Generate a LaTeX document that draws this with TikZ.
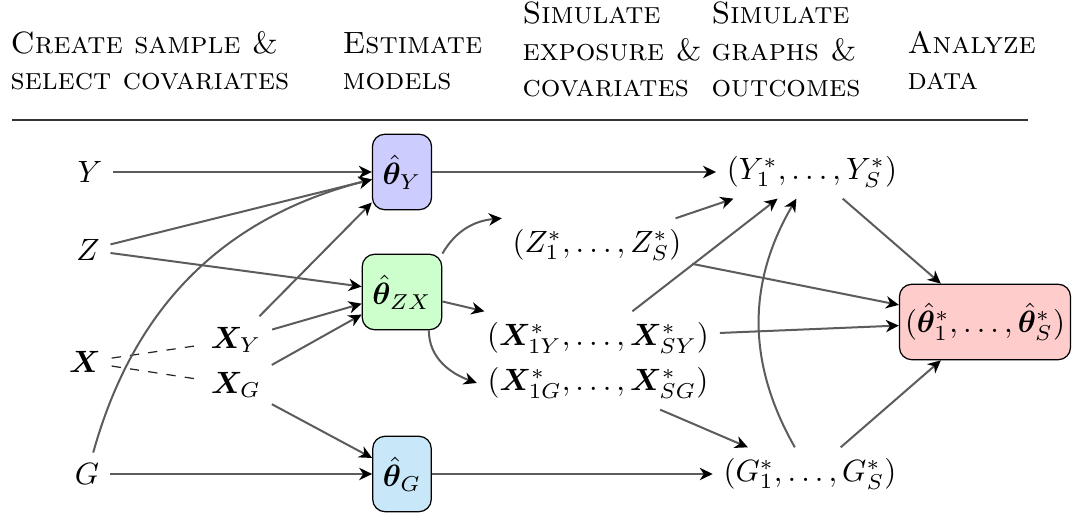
\documentclass[tikz,border=0pt]{standalone}
\usepackage{amsmath}
\usepackage{bm}
\usetikzlibrary{arrows.meta}
\definecolor{boxY}{RGB}{204,204,255}
\definecolor{boxZX}{RGB}{204,255,204}
\definecolor{boxG}{RGB}{200,232,250}
\definecolor{boxR}{RGB}{255,204,204}
\definecolor{edgegray}{RGB}{92,92,92}
\begin{document}
\begin{tikzpicture}[x=0.3247pt,y=-0.3247pt,
  est/.style={draw=black, line width=0.4pt, rounded corners=4pt, minimum height=24.5pt, inner sep=3.33pt},
  arr/.style={draw=edgegray, line width=0.65pt, -{Stealth[color=black,length=4.2pt,width=4pt,inset=1.3pt]}},
  dsh/.style={draw=black!85, dashed, line width=0.4pt},
  hdr/.style={anchor=base west, inner sep=0pt, align=left, font=\scshape},
  rule/.style={draw=black!80, line width=0.6pt}]
\useasboundingbox (0,0) rectangle (1081,522);

% header
\node[hdr] (h1) at (10,90) {Create sample \&\\select covariates};
\node[hdr] (h2) at (342,90) {Estimate\\models};
\node[hdr] (h3) at (522,97) {Simulate\\exposure \&\\covariates};
\node[hdr] (h4) at (711,97) {Simulate\\graphs \&\\outcomes};
\node[hdr] (h5) at (907,90) {Analyze\\data};
\coordinate (rl) at (12,120);
\coordinate (rr) at (1028,120);
\draw[rule] (rl) -- (rr);

% inputs
\node (Y) at (90,172) {$Y$};
\node (Z) at (88,250) {$Z$};
\node (X) at (85,362) {$\bm X$};
\node (G) at (87,474) {$G$};
\node (XY) at (236,340) {$\bm X_Y$};
\node (XG) at (236,385) {$\bm X_G$};

% models
\node[est, fill=boxY] (thY) at (402,172) {$\hat{\bm\theta}_Y$};
\node[est, fill=boxZX] (thZX) at (402,292) {$\hat{\bm\theta}_{ZX}$};
\node[est, fill=boxG] (thG) at (402,474) {$\hat{\bm\theta}_G$};

% simulated
\node (Zs) at (597,245) {$(Z^*_1,\ldots,Z^*_S)$};
\node (XsY) at (598,338) {$(\bm X^*_{1Y},\ldots,\bm X^*_{SY})$};
\node (XsG) at (598,383) {$(\bm X^*_{1G},\ldots,\bm X^*_{SG})$};
\node (Ys) at (812,172) {$(Y^*_1,\ldots,Y^*_S)$};
\node (Gs) at (810,474) {$(G^*_1,\ldots,G^*_S)$};
\node[est, fill=boxR, inner xsep=1.8pt] (Res) at (985,322) {$(\hat{\bm\theta}^*_1,\ldots,\hat{\bm\theta}^*_S)$};

% dashed
\draw[dsh] (X) -- (XY);
\draw[dsh] (X) -- (XG);

% edges into models
\draw[arr] (Y) -- (thY);
\draw[arr] (Z) -- (thY);
\draw[arr] (Z) -- (thZX);
\draw[arr] (G) to[bend left=30] (thY);
\draw[arr] (XY) -- (thY);
\draw[arr] (XY) -- (thZX);
\draw[arr] (XG) -- (thZX);
\draw[arr] (XG) -- (thG);
\draw[arr] (G) -- (thG);

% model outputs
\draw[arr] (thY) -- (Ys);
\draw[arr] (thG) -- (Gs);
\draw[arr] (thZX.north east) to[out=60,in=185] (Zs.north west);
\draw[arr] (thZX) -- (XsY);
\draw[arr] (thZX.-55) to[out=-90,in=160] (XsG.west);

% simulation
\draw[arr] (Zs) -- (Ys);
\draw[arr] (XsY) -- (Ys);
\draw[arr] (XsG) -- (Gs);
\draw[arr] (Gs) to[bend left=30] (Ys);

% analysis
\draw[arr] (Ys) -- (Res);
\draw[arr] (Zs) -- (Res);
\draw[arr] (XsY) -- (Res);
\draw[arr] (Gs) -- (Res);
\end{tikzpicture}
\end{document}
